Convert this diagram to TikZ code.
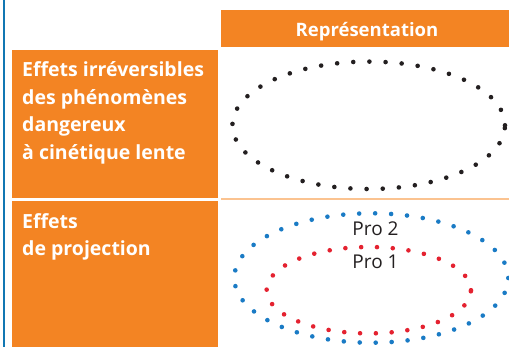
\documentclass[tikz,border=0pt]{standalone}
\usepackage{fontspec}
\setmainfont{Open Sans}
\usetikzlibrary{positioning}
\definecolor{orangeA}{HTML}{F38423}
\definecolor{orangeB}{HTML}{FBC390}
\definecolor{barblue}{HTML}{1177B3}
\definecolor{dotblue}{HTML}{1A7BC5}
\definecolor{dotred}{HTML}{E42230}
\definecolor{dotblack}{HTML}{231F20}

\tikzset{
  box/.style={fill=orangeA, inner sep=0pt, outer sep=0pt},
  rowtext/.style={text=white, font=\bfseries\fontsize{19.5}{27.5}\selectfont, align=left, inner sep=0pt, anchor=base west},
  protext/.style={text=dotblack, font=\fontsize{19}{21}\selectfont, inner sep=0pt, anchor=base},
  dots/.style={line width=4.6pt, line cap=round, dash pattern=on 0pt off #1}
}

\begin{document}
\begin{tikzpicture}[x=1pt,y=-1pt]
\useasboundingbox (0,0) rectangle (509,347);

% left bar
\draw[barblue, line width=2.2pt] (4,0) -- (4,347);

% header and rows
\node[box, minimum width=288pt, minimum height=37pt] (head) at (365,28.5) {};
\node[text=white, font=\bfseries\fontsize{18.5}{22}\selectfont, inner sep=0pt, anchor=base] (headtxt) at (367,37) {Représentation};
\node[box, minimum width=206pt, minimum height=148pt] (row1) at (115,124) {};
\node[box, minimum width=206pt, minimum height=146pt] (row2) at (115,274) {};
\draw[orangeB, line width=1.6pt] (221,199) -- (509,199);

% base anchor sits on the last line
\node[rowtext] (row1txt) at (22,159.5) {Effets irréversibles\\des phénomènes\\dangereux\\à cinétique lente};
\node[rowtext] (row2txt) at (22,256) {Effets\\de projection};

% representations
\draw[dotblack, dots=16.16pt] (368.7,125.3) ellipse [x radius=136.3pt, y radius=63.7pt];
\draw[dotblue, dots=15.97pt] (371.3,278) ellipse [x radius=137pt, y radius=64.7pt];
\draw[dotred, dots=15.82pt] (368.8,290.2) ellipse [x radius=102.2pt, y radius=43.2pt];

\node[protext] (pro2) at (375.5,236) {Pro 2};
\node[protext, below=33pt of pro2.base, anchor=base] (pro1) {Pro 1};
\end{tikzpicture}
\end{document}
